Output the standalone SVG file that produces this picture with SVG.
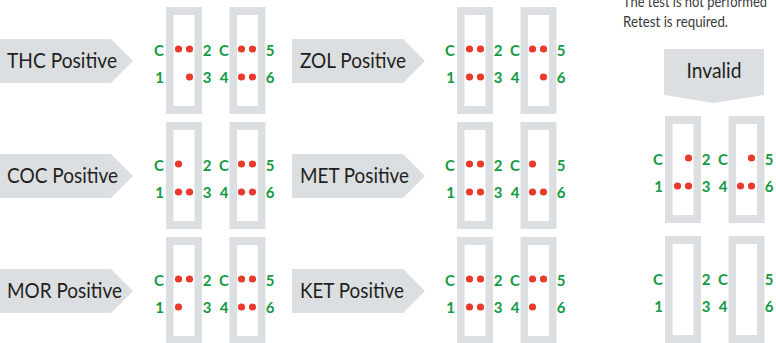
<svg xmlns="http://www.w3.org/2000/svg" xmlns:xlink="http://www.w3.org/1999/xlink" width="776" height="343" viewBox="0 0 776 343">
<style>
.bg{fill:#ffffff}
.strip{fill:#dcdfe1}
.win{fill:#ffffff}
.tag{fill:#dcdfe1}
.lbl{font-family:Lato,"Liberation Sans",sans-serif;font-size:21px;fill:#231f20}
.num{font-family:Lato,"Liberation Sans",sans-serif;font-size:15px;font-weight:bold;fill:#139a43;text-anchor:middle}
.note{font-family:Lato,"Liberation Sans",sans-serif;font-size:14.5px;fill:#3a3a3a}
.dot{fill:#e83b2c}
</style>
<defs>
<g id="pair">
<rect class="strip" x="166" y="0" width="36" height="107"/>
<rect class="win" x="173.5" y="8" width="21" height="91"/>
<rect class="strip" x="229.5" y="0" width="36" height="107"/>
<rect class="win" x="237" y="8" width="21" height="91"/>
<text class="num" x="159" y="49">C</text>
<text class="num" x="159.5" y="76">1</text>
<text class="num" x="207" y="49">2</text>
<text class="num" x="207" y="76">3</text>
<text class="num" x="224" y="49">C</text>
<text class="num" x="224" y="76">4</text>
<text class="num" x="270" y="49">5</text>
<text class="num" x="270" y="76">6</text>
</g>
<circle id="d" class="dot" r="3.6"/>
<polygon id="tagR" class="tag" points="0,32 111,32 133,54 111,76 0,76"/>
</defs>
<rect class="bg" width="776" height="343"/>

<g id="thc" transform="translate(0,7)">
<use xlink:href="#tagR"/>
<text class="lbl" x="7" y="61" textLength="110" lengthAdjust="spacingAndGlyphs">THC Positive</text>
<use xlink:href="#pair"/>
<use xlink:href="#d" x="178.5" y="42"/><use xlink:href="#d" x="189.5" y="42"/>
<use xlink:href="#d" x="189.5" y="70"/>
<use xlink:href="#d" x="241.5" y="42"/><use xlink:href="#d" x="252.5" y="42"/>
<use xlink:href="#d" x="241.5" y="70"/><use xlink:href="#d" x="252.5" y="70"/>
</g>

<g id="coc" transform="translate(0,122)">
<use xlink:href="#tagR"/>
<text class="lbl" x="7" y="61" textLength="111" lengthAdjust="spacingAndGlyphs">COC Positive</text>
<use xlink:href="#pair"/>
<use xlink:href="#d" x="178.5" y="42"/>
<use xlink:href="#d" x="178.5" y="70"/><use xlink:href="#d" x="189.5" y="70"/>
<use xlink:href="#d" x="241.5" y="42"/><use xlink:href="#d" x="252.5" y="42"/>
<use xlink:href="#d" x="241.5" y="70"/><use xlink:href="#d" x="252.5" y="70"/>
</g>

<g id="mor" transform="translate(0,237)">
<use xlink:href="#tagR"/>
<text class="lbl" x="7" y="61" textLength="115" lengthAdjust="spacingAndGlyphs">MOR Positive</text>
<use xlink:href="#pair"/>
<use xlink:href="#d" x="178.5" y="42"/><use xlink:href="#d" x="189.5" y="42"/>
<use xlink:href="#d" x="178.5" y="70"/>
<use xlink:href="#d" x="241.5" y="42"/><use xlink:href="#d" x="252.5" y="42"/>
<use xlink:href="#d" x="241.5" y="70"/><use xlink:href="#d" x="252.5" y="70"/>
</g>

<g id="zol" transform="translate(291,7)">
<use xlink:href="#tagR" x="1"/>
<text class="lbl" x="9" y="61" textLength="106" lengthAdjust="spacingAndGlyphs">ZOL Positive</text>
<use xlink:href="#pair"/>
<use xlink:href="#d" x="178.5" y="42"/><use xlink:href="#d" x="189.5" y="42"/>
<use xlink:href="#d" x="178.5" y="70"/><use xlink:href="#d" x="189.5" y="70"/>
<use xlink:href="#d" x="241.5" y="42"/><use xlink:href="#d" x="252.5" y="42"/>
<use xlink:href="#d" x="252.5" y="70"/>
</g>

<g id="met" transform="translate(291,122)">
<use xlink:href="#tagR" x="1"/>
<text class="lbl" x="9" y="61" textLength="109" lengthAdjust="spacingAndGlyphs">MET Positive</text>
<use xlink:href="#pair"/>
<use xlink:href="#d" x="178.5" y="42"/><use xlink:href="#d" x="189.5" y="42"/>
<use xlink:href="#d" x="178.5" y="70"/><use xlink:href="#d" x="189.5" y="70"/>
<use xlink:href="#d" x="241.5" y="42"/>
<use xlink:href="#d" x="241.5" y="70"/><use xlink:href="#d" x="252.5" y="70"/>
</g>

<g id="ket" transform="translate(291,237)">
<use xlink:href="#tagR" x="1"/>
<text class="lbl" x="9" y="61" textLength="104" lengthAdjust="spacingAndGlyphs">KET Positive</text>
<use xlink:href="#pair"/>
<use xlink:href="#d" x="178.5" y="42"/><use xlink:href="#d" x="189.5" y="42"/>
<use xlink:href="#d" x="178.5" y="70"/><use xlink:href="#d" x="189.5" y="70"/>
<use xlink:href="#d" x="241.5" y="42"/><use xlink:href="#d" x="252.5" y="42"/>
<use xlink:href="#d" x="241.5" y="70"/>
</g>

<g id="invalid">
<text class="note" x="623" y="7" textLength="144" lengthAdjust="spacingAndGlyphs">The test is not performed</text>
<text class="note" x="623" y="27" textLength="105" lengthAdjust="spacingAndGlyphs">Retest is required.</text>
<polygon class="tag" points="664,49 764,49 764,95 714,103 664,95"/>
<text class="lbl" x="686.5" y="78" textLength="55" lengthAdjust="spacingAndGlyphs">Invalid</text>
</g>

<g id="invalid1" transform="translate(499,116)">
<use xlink:href="#pair"/>
<use xlink:href="#d" x="189.5" y="42"/>
<use xlink:href="#d" x="178.5" y="70"/><use xlink:href="#d" x="189.5" y="70"/>
<use xlink:href="#d" x="252.5" y="42"/>
<use xlink:href="#d" x="241.5" y="70"/><use xlink:href="#d" x="252.5" y="70"/>
</g>

<g id="invalid2" transform="translate(499,236)">
<use xlink:href="#pair"/>
</g>

<g id="connectors"/>
</svg>
